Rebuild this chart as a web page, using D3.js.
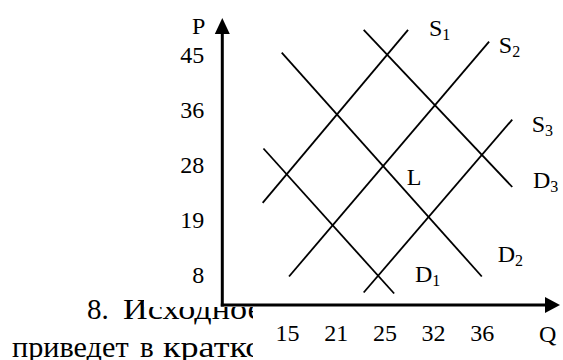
<!DOCTYPE html>
<html><head><meta charset="utf-8">
<script src="https://cdn.jsdelivr.net/npm/d3@7"></script>
<style>
body{margin:0;background:#fff;}
svg{display:block;}
text{font-family:"Liberation Serif","Times New Roman",serif;fill:#000;}
</style>
</head><body>
<script>
// ---- data ----
const qTicks = [15, 21, 25, 32, 36];
const pTicks = [8, 19, 28, 36, 45];
const curveLetters = ["S", "S", "S", "D", "D", "D"];
const curveIndex = ["1", "2", "3", "1", "2", "3"];
const startQ = [12.0, 15.25, 23.3, 12.1, 14.35, 23.3];
const startP = [21.8, 7.7, 4.5, 30.4, 45.4, 49.1];
const endQ = [28.4, 36.6, 38.5, 26.4, 36.0, 38.5];
const endP = [49.1, 47.2, 34.6, 4.3, 7.7, 24.4];
const labelQ = [31.4, 37.4, 40.1, 29.4, 37.3, 40.2];
const labelP = [48.1, 45.3, 32.8, 6.6, 10.6, 24.2];
const pointNames = ["L"];
const pointQ = [28.2];
const pointP = [24.7];
const axisNames = ["Q", "P"];
const noteWords1 = ["8.", "Исходное"];
const noteWords2 = ["приведет", "в", "кратко"];

// ---- layout ----
const W = 563, H = 360;
const x0 = 287, stepX = 48.7, y0 = 275, stepY = 55;
const axisX = 222.3, axisY = 305;
const fs = 24, subFs = 16, noteFs = 29;

const x = d3.scaleLinear().domain(qTicks).range(qTicks.map((d, i) => x0 + i * stepX));
const y = d3.scaleLinear().domain(pTicks).range(pTicks.map((d, i) => y0 - i * stepY));

const svg = d3.select("body").append("svg").attr("width", W).attr("height", H);

// clip for the page text that sits partly behind the figure
const cp = svg.append("defs").append("clipPath").attr("id", "noteClip");
cp.append("rect").attr("x", 0).attr("y", 0).attr("width", 144).attr("height", H);
cp.append("rect").attr("x", 0).attr("y", 307).attr("width", 253).attr("height", H - 307);

const note = svg.append("g").attr("clip-path", "url(#noteClip)").attr("font-size", noteFs);
// word placement of the justified paragraph: [x start, visible width of stretched prefix, prefix length]
const line1Layout = [[87, null, 0], [123, 124, 7]];
const line2Layout = [[12, 116.6, 8], [140, null, 0], [163, 84, 5]];
function placeWords(words, layout, baseline) {
  words.forEach((w, i) => {
    const [wx, target, plen] = layout[i];
    const t = note.append("text").attr("x", wx).attr("y", baseline).text(w);
    if (target) {
      const probe = note.append("text").attr("x", 0).attr("y", -100).text(w.slice(0, plen));
      const pw = probe.node().getComputedTextLength();
      probe.remove();
      const full = t.node().getComputedTextLength();
      t.attr("textLength", full * target / pw).attr("lengthAdjust", "spacingAndGlyphs");
    }
  });
}
placeWords(noteWords1, line1Layout, 318.6);
placeWords(noteWords2, line2Layout, 356.5);

// axes lines + arrows
svg.append("line").attr("x1", axisX).attr("y1", axisY + 1.5).attr("x2", axisX).attr("y2", 32)
  .attr("stroke", "#000").attr("stroke-width", 3);
svg.append("path").attr("d", `M${axisX - 7.5},34L${axisX + 7.5},34L${axisX},18Z`).attr("fill", "#000");
svg.append("line").attr("x1", axisX - 1.5).attr("y1", axisY).attr("x2", 547).attr("y2", axisY)
  .attr("stroke", "#000").attr("stroke-width", 3);
svg.append("path").attr("d", `M545,${axisY - 8}L545,${axisY + 8}L560,${axisY}Z`).attr("fill", "#000");

// tick labels
const gy = svg.append("g").attr("transform", `translate(${axisX},0)`)
  .call(d3.axisLeft(y).tickValues(pTicks).tickSize(0).tickPadding(18));
gy.select(".domain").remove();
gy.attr("font-size", fs).attr("font-family", null);

const gx = svg.append("g").attr("transform", `translate(0,${axisY})`)
  .call(d3.axisBottom(x).tickValues(qTicks).tickSize(0).tickPadding(19));
gx.select(".domain").remove();
gx.attr("font-size", fs).attr("font-family", null);

// axis names
svg.append("text").attr("x", 539).attr("y", 341.5).attr("font-size", fs).text(axisNames[0]);
svg.append("text").attr("x", 192).attr("y", 34).attr("font-size", fs).text(axisNames[1]);

// curves
const line = d3.line().x(d => x(d[0])).y(d => y(d[1]));
const curves = curveLetters.map((c, i) => [[startQ[i], startP[i]], [endQ[i], endP[i]]]);
svg.append("g").selectAll("path").data(curves).join("path")
  .attr("d", line).attr("fill", "none").attr("stroke", "#000").attr("stroke-width", 1.8);

// curve labels
const lab = svg.append("g").selectAll("text").data(curveLetters).join("text")
  .attr("x", (d, i) => x(labelQ[i])).attr("y", (d, i) => y(labelP[i])).attr("font-size", fs);
lab.append("tspan").text(d => d);
lab.append("tspan").attr("font-size", subFs).attr("dy", 4).text((d, i) => curveIndex[i]);

// point label
svg.append("g").selectAll("text").data(pointNames).join("text")
  .attr("x", (d, i) => x(pointQ[i])).attr("y", (d, i) => y(pointP[i])).attr("font-size", fs).text(d => d);
</script>
</body></html>
